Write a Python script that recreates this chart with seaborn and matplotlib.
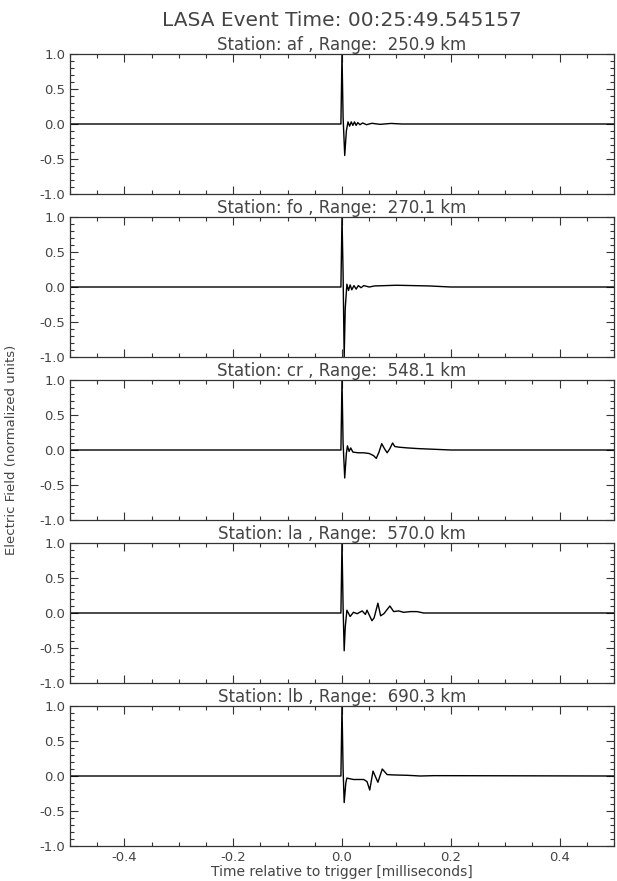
import numpy as np
import pandas as pd
import matplotlib
matplotlib.use("Agg")
import matplotlib.pyplot as plt
from matplotlib.ticker import MultipleLocator, FormatStrFormatter
import seaborn as sns

event_time = "00:25:49.545157"
stations = ["af", "fo", "cr", "la", "lb"]
ranges_km = [250.9, 270.1, 548.1, 570.0, 690.3]

# waveforms (time in ms, field normalized)
t_af = [-0.5, -0.002, 0.0, 0.002, 0.005, 0.008, 0.011, 0.014, 0.017, 0.020, 0.023, 0.026,
        0.029, 0.033, 0.038, 0.045, 0.055, 0.070, 0.090, 0.110, 0.140, 0.5]
e_af = [0.0, 0.0, 1.0, 0.1, -0.45, -0.1, 0.03, -0.03, 0.03, -0.02, 0.03, -0.02,
        0.02, -0.01, 0.015, -0.01, 0.01, -0.005, 0.008, 0.0, 0.0, 0.0]

t_fo = [-0.5, -0.002, 0.0, 0.002, 0.004, 0.006, 0.009, 0.012, 0.015, 0.018, 0.022, 0.026,
        0.030, 0.035, 0.040, 0.050, 0.060, 0.080, 0.100, 0.130, 0.160, 0.200, 0.5]
e_fo = [0.0, 0.0, 1.0, 0.2, -1.0, -0.3, 0.04, -0.05, 0.03, -0.04, 0.02, -0.03,
        0.02, -0.01, 0.02, 0.0, 0.015, 0.02, 0.025, 0.02, 0.015, 0.0, 0.0]

t_cr = [-0.5, -0.002, 0.0, 0.002, 0.005, 0.008, 0.010, 0.013, 0.016, 0.020, 0.030, 0.040,
        0.050, 0.058, 0.063, 0.068, 0.073, 0.078, 0.083, 0.088, 0.093, 0.097, 0.105, 0.120,
        0.140, 0.170, 0.200, 0.5]
e_cr = [0.0, 0.0, 1.0, 0.1, -0.40, -0.05, 0.06, -0.02, 0.03, -0.03, -0.04, -0.04,
        -0.05, -0.08, -0.12, -0.03, 0.09, 0.02, -0.04, 0.02, 0.10, 0.05, 0.04, 0.03,
        0.02, 0.01, 0.0, 0.0]

t_la = [-0.5, -0.002, 0.0, 0.002, 0.004, 0.006, 0.009, 0.015, 0.021, 0.028, 0.037, 0.043,
        0.046, 0.055, 0.059, 0.066, 0.071, 0.077, 0.088, 0.095, 0.104, 0.113, 0.126, 0.138,
        0.150, 0.5]
e_la = [0.0, 0.0, 1.0, 0.1, -0.54, -0.2, 0.04, -0.05, 0.01, -0.01, 0.03, -0.02,
        0.04, -0.11, -0.07, 0.14, -0.04, -0.01, 0.10, 0.02, 0.03, 0.01, 0.02, 0.02,
        0.0, 0.0]

t_lb = [-0.5, -0.002, 0.0, 0.002, 0.004, 0.007, 0.009, 0.021, 0.040, 0.046, 0.051, 0.057,
        0.066, 0.074, 0.083, 0.095, 0.120, 0.144, 0.169, 0.5]
e_lb = [0.0, 0.0, 1.0, 0.1, -0.38, -0.1, -0.03, -0.05, -0.05, -0.08, -0.2, 0.07,
        -0.09, 0.10, 0.02, 0.015, 0.01, 0.0, 0.005, 0.0]

times = [t_af, t_fo, t_cr, t_la, t_lb]
fields = [e_af, e_fo, e_cr, e_la, e_lb]

sns.set_theme(style="ticks")
plt.rcParams['font.family'] = ['DejaVu Sans']
txt = '#444444'

W, H = 617, 881
fig = plt.figure(figsize=(W / 100, H / 100), dpi=100)

left, width, height = 70, 544, 140
tops = [54, 217, 380, 543, 706]

for i, (st, rk) in enumerate(zip(stations, ranges_km)):
    ax = fig.add_axes([left / W, 1 - (tops[i] + height) / H, width / W, height / H])
    df = pd.DataFrame({"t": times[i], "e": fields[i]})
    sns.lineplot(data=df, x="t", y="e", ax=ax, color="black", linewidth=1.0,
                 estimator=None, sort=False)
    ax.set_xlim(-0.5, 0.5)
    ax.set_ylim(-1.0, 1.0)
    ax.xaxis.set_major_locator(MultipleLocator(0.2))
    ax.xaxis.set_minor_locator(MultipleLocator(0.05))
    ax.yaxis.set_major_locator(MultipleLocator(0.5))
    ax.yaxis.set_minor_locator(MultipleLocator(0.1))
    ax.yaxis.set_major_formatter(FormatStrFormatter('%.1f'))
    ax.xaxis.set_major_formatter(FormatStrFormatter('%.1f'))
    ax.tick_params(which='both', direction='in', top=True, right=True,
                   colors='#333333', labelcolor=txt, labelsize=9.5, width=0.8)
    ax.tick_params(which='major', length=6)
    ax.tick_params(which='minor', length=3)
    for sp in ax.spines.values():
        sp.set_color('#333333')
        sp.set_linewidth(0.9)
    ax.set_xlabel('')
    ax.set_ylabel('')
    if i < len(stations) - 1:
        ax.tick_params(axis='x', labelbottom=False)
    else:
        ax.set_xlabel('Time relative to trigger [milliseconds]', fontsize=10,
                      color=txt, labelpad=1)
    ax.set_title(f"Station: {st} , Range:  {rk:.1f} km", fontsize=12,
                 color=txt, pad=2)

fig.text((left + width / 2) / W, 1 - 20 / H, f"LASA Event Time: {event_time}",
         ha='center', va='center', fontsize=14.5, color=txt)
fig.text(12 / W, 1 - 450 / H, 'Electric Field (normalized units)', rotation=90,
         ha='center', va='center', fontsize=9.5, color=txt)

fig.savefig('out.png', dpi=100)
